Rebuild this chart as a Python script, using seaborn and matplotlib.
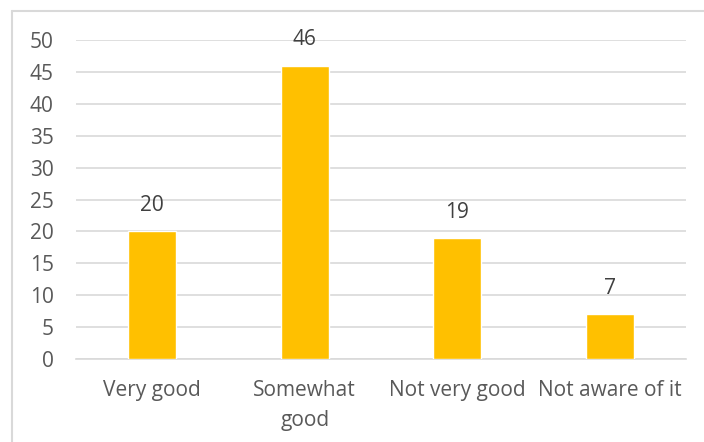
import matplotlib
matplotlib.use("Agg")
import matplotlib.pyplot as plt
import seaborn as sns
import pandas as pd
from matplotlib.lines import Line2D

categories = ["Very good", "Somewhat\ngood", "Not very good", "Not aware of it"]
values = [20, 46, 19, 7]
yticks = [0, 5, 10, 15, 20, 25, 30, 35, 40, 45, 50]

sns.set_theme(style="white")
plt.rcParams['font.family'] = ['Open Sans', 'DejaVu Sans']

df = pd.DataFrame({"cat": categories, "val": values})

fig = plt.figure(figsize=(7.04, 4.42), dpi=100)
ax = fig.add_axes([76/704, 1 - 359/442, (686 - 76)/704, (359 - 40)/442])

sns.barplot(data=df, x="cat", y="val", color="#FFC000", width=0.315,
            saturation=1, ax=ax, zorder=3)

ax.set_ylim(0, 50)
ax.set_yticks(yticks)
ax.set_xlim(-0.5, 3.5)
ax.set_xlabel("")
ax.set_ylabel("")
ax.yaxis.grid(True, color="#D9D9D9", linewidth=1.2, zorder=0)
ax.set_axisbelow(True)
for s in ["top", "right", "left"]:
    ax.spines[s].set_visible(False)
ax.spines["bottom"].set_color("#D9D9D9")
ax.spines["bottom"].set_linewidth(1.2)
ax.tick_params(axis="both", length=0, colors="#595959", labelsize=15)
ax.tick_params(axis="y", pad=16)
ax.tick_params(axis="x", pad=15)
for lbl in ax.get_xticklabels():
    lbl.set_linespacing(1.55)

for i, v in enumerate(values):
    ax.annotate(str(v), (i, v), xytext=(0, 18.5), textcoords="offset points",
                ha="center", va="center", fontsize=15, color="#404040")

# outer chart border (left and top visible)
fig.add_artist(Line2D([12/704, 12/704], [1 - 11/442, 0], color="#D9D9D9", linewidth=1.5,
                      transform=fig.transFigure))
fig.add_artist(Line2D([12/704, 1], [1 - 11/442, 1 - 11/442], color="#D9D9D9", linewidth=1.5,
                      transform=fig.transFigure))

fig.savefig("out.png", dpi=100)
